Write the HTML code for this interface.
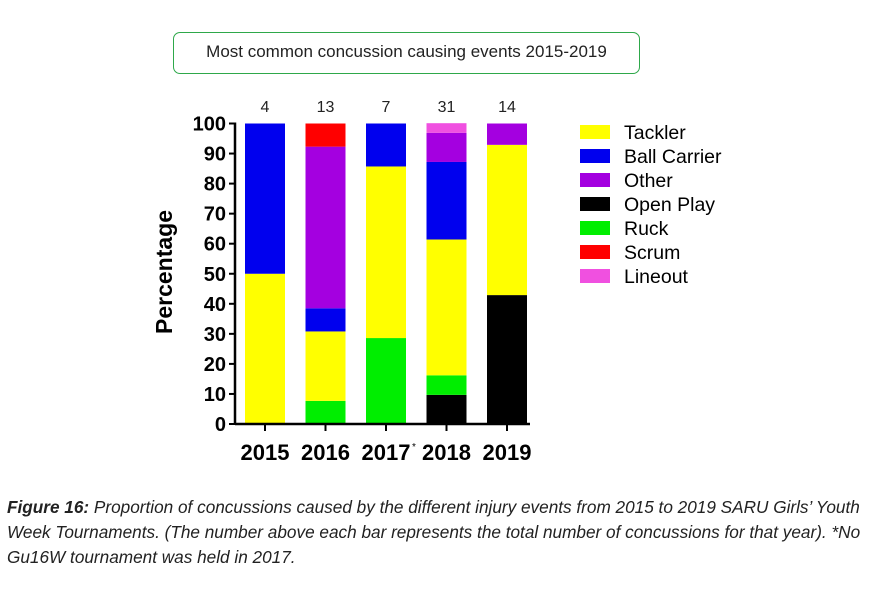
<!DOCTYPE html>
<html><head><meta charset="utf-8"><style>
body{margin:0;width:873px;height:589px;background:#fff;overflow:hidden;font-family:"Liberation Sans",sans-serif}
#title{position:absolute;left:173px;top:32px;width:467px;height:42px;border:1.5px solid #2ea84a;border-radius:7px;box-sizing:border-box;text-align:center;line-height:38px;font-size:17px;color:#222}
#cap{position:absolute;left:7px;top:495px;width:866px;font-style:italic;font-size:17.2px;line-height:25px;color:#222;white-space:nowrap}
</style></head><body>
<div id="title">Most common concussion causing events 2015-2019</div>
<svg id="chart" width="873" height="589" style="position:absolute;left:0;top:0"></svg>
<div id="cap"><b>Figure 16:</b> Proportion of concussions caused by the different injury events from 2015 to 2019 SARU Girls’ Youth<br>Week Tournaments. (The number above each bar represents the total number of concussions for that year). *No<br>Gu16W tournament was held in 2017.</div>
<script>
const years=["2015","2016","2017","2018","2019"];
const totals=[4,13,7,31,14];
const seriesNames=["Open Play","Ruck","Tackler","Ball Carrier","Other","Scrum","Lineout"];
const openPlay=[0,0,0,9.7,42.9];
const ruck=[0,7.7,28.6,6.5,0];
const tackler=[50,23.1,57.1,45.2,50];
const ballCarrier=[50,7.7,14.3,25.8,0];
const other=[0,53.8,0,9.7,7.1];
const scrum=[0,7.7,0,0,0];
const lineout=[0,0,0,3.2,0];
const yTicks=[0,10,20,30,40,50,60,70,80,90,100];
const legendOrder=["Tackler","Ball Carrier","Other","Open Play","Ruck","Scrum","Lineout"];
const colors={"Open Play":"#000","Ruck":"#00ee00","Tackler":"#ffff00","Ball Carrier":"#0000ee","Other":"#a400e0","Scrum":"#ff0000","Lineout":"#f050e0"};
const series=[openPlay,ruck,tackler,ballCarrier,other,scrum,lineout];
const svg=document.getElementById('chart');const NS="http://www.w3.org/2000/svg";
function mk(t,a,txt){const e=document.createElementNS(NS,t);for(const k in a)e.setAttribute(k,a[k]);if(txt!==undefined)e.textContent=txt;svg.appendChild(e);return e;}
const y0=424,y1=123.5,axX=235,bw=40;
const ys=v=>y0-(v/100)*(y0-y1);
const xc=i=>265+i*60.5;
years.forEach((yr,i)=>{let acc=0;
 series.forEach((s,j)=>{const v=s[i];if(v<=0)return;
  const r=mk('rect',{x:xc(i)-bw/2,y:ys(acc+v),width:bw,height:ys(acc)-ys(acc+v),fill:colors[seriesNames[j]]});
  
  acc+=v;});
 const t=mk('text',{x:xc(i),y:112,'text-anchor':'middle','font-size':16,fill:'#222'},totals[i]);
 
 const tk=mk('line',{x1:xc(i),x2:xc(i),y1:y0,y2:y0+7,stroke:'#000','stroke-width':2});
 
 const xl=mk('text',{x:xc(i),y:460,'text-anchor':'middle','font-size':22,'font-weight':'bold',fill:'#000'},yr);
 
});
const st=mk('text',{x:412,y:450,'font-size':10},'*');
const ya=mk('line',{x1:axX,x2:axX,y1:y1-1,y2:y0+1,stroke:'#000','stroke-width':2.5});

const xa=mk('line',{x1:axX,x2:530,y1:y0,y2:y0,stroke:'#000','stroke-width':2.5});

yTicks.forEach(v=>{const l=mk('line',{x1:axX-6,x2:axX,y1:ys(v),y2:ys(v),stroke:'#000','stroke-width':2});
 
 const t=mk('text',{x:axX-9,y:ys(v)+7,'text-anchor':'end','font-size':20,'font-weight':'bold'},v);
 });
const yt=mk('text',{x:172,y:272,'text-anchor':'middle','font-size':23,'font-weight':'bold',transform:'rotate(-90 172 272)'},'Percentage');

legendOrder.forEach((n,k)=>{const y=125+k*24;
 const r=mk('rect',{x:580,y:y,width:30,height:14,fill:colors[n]});
 
 const t=mk('text',{x:624,y:y+14,'font-size':19.5,fill:'#000'},n);
 });
</script>
</body></html>
